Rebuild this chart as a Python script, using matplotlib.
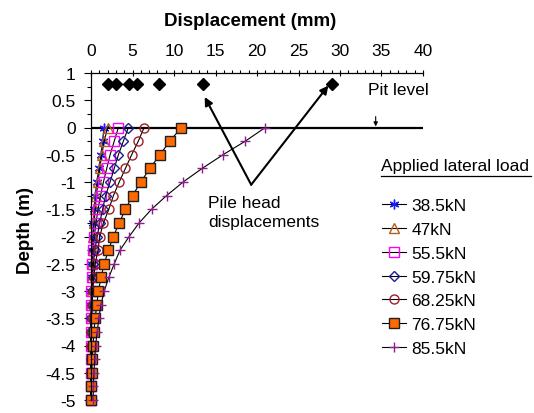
import matplotlib
matplotlib.use('Agg')
import matplotlib.pyplot as plt
from matplotlib.ticker import MultipleLocator, FixedLocator, FixedFormatter
from matplotlib.lines import Line2D

plt.rcParams['font.family'] = ['Liberation Sans', 'DejaVu Sans']

# ---------------- data ----------------
depth = [0, -0.25, -0.5, -0.75, -1, -1.25, -1.5, -1.75, -2, -2.25, -2.5,
         -2.75, -3, -3.25, -3.5, -3.75, -4, -4.25, -4.5, -4.75, -5]

load_labels = ['38.5kN', '47kN', '55.5kN', '59.75kN', '68.25kN', '76.75kN', '85.5kN']

disp_38_5 = [1.55, 1.4, 1.2, 0.95, 0.7, 0.5, 0.4, 0.3, 0.2, 0.15, 0.1,
             0.08, 0.05, 0.03, 0.02, 0.0, 0.0, 0.0, 0.0, 0.0, 0.0]
disp_47 = [2.0, 1.6, 1.3, 1.05, 0.85, 0.65, 0.5, 0.38, 0.28, 0.2, 0.14,
           0.1, 0.07, 0.05, 0.03, 0.02, 0.01, 0.0, 0.0, 0.0, 0.0]
disp_55_5 = [3.3, 2.8, 2.3, 1.9, 1.5, 1.15, 0.85, 0.6, 0.4, 0.28, 0.18,
             0.1, 0.05, 0.02, 0.0, -0.03, -0.05, -0.05, -0.05, -0.05, -0.05]
disp_59_75 = [4.5, 3.9, 3.3, 2.8, 2.3, 1.75, 1.4, 1.05, 0.75, 0.45, 0.3,
              0.2, 0.12, 0.08, 0.05, 0.03, 0.02, 0.0, 0.0, 0.0, 0.0]
disp_68_25 = [6.4, 5.7, 4.9, 4.15, 3.4, 2.7, 2.15, 1.5, 1.05, 0.85, 0.5,
              0.35, 0.2, 0.15, 0.1, 0.05, 0.03, 0.02, 0.0, 0.0, 0.0]
disp_76_75 = [10.9, 9.5, 8.3, 7.1, 6.0, 5.0, 4.15, 3.4, 2.7, 2.1, 1.6,
              1.2, 0.9, 0.7, 0.5, 0.35, 0.25, 0.15, 0.1, 0.05, 0.05]
disp_85_5 = [21.0, 18.6, 15.9, 13.4, 11.1, 9.1, 7.3, 5.8, 4.6, 3.5, 2.8,
             2.15, 1.6, 1.2, 0.95, 0.75, 0.55, 0.45, 0.35, 0.3, 0.25]

head_disp = [2.1, 3.0, 4.6, 5.5, 8.2, 13.5, 29.0]
pit_height = [0.8, 0.8, 0.8, 0.8, 0.8, 0.8, 0.8]

x_ticks = [0, 5, 10, 15, 20, 25, 30, 35, 40]
y_ticks = [1, 0.5, 0, -0.5, -1, -1.5, -2, -2.5, -3, -3.5, -4, -4.5, -5]
y_tick_labels = ['1', '0.5', '0', '-0.5', '-1', '-1.5', '-2', '-2.5', '-3',
                 '-3.5', '-4', '-4.5', '-5']

series = [disp_38_5, disp_47, disp_55_5, disp_59_75, disp_68_25, disp_76_75, disp_85_5]

styles = [
    dict(marker=(6, 2, 0), ms=7, mec='#1a1aff', mfc='none', mew=1.0),
    dict(marker='^', ms=7.5, mec='#b85c1c', mfc='none', mew=1.0),
    dict(marker='s', ms=7.5, mec='#ff00ff', mfc='none', mew=1.0),
    dict(marker='D', ms=4.8, mec='#1e1e96', mfc='none', mew=1.0),
    dict(marker='o', ms=6.5, mec='#a01e28', mfc='none', mew=1.0),
    dict(marker='s', ms=7, mec='#202020', mfc='#ff6a00', mew=1.0),
    dict(marker='+', ms=7, mec='#8c1e8c', mfc='none', mew=1.0),
]

W, H = 534, 414
fig = plt.figure(figsize=(W / 100, H / 100), dpi=100)
L, R, T, B = 91, 423, 74, 401
ax = fig.add_axes([L / W, 1 - B / H, (R - L) / W, (B - T) / H])

FS = 12.5

handles = []
for vals, lab, st in zip(series, load_labels, styles):
    ln, = ax.plot(vals, depth, color='black', lw=0.8, label=lab, clip_on=False, **st)
    handles.append(ln)

# ground line at depth 0
ax.plot([0, 40], [0, 0], color='black', lw=1.6, zorder=1)

# pile head displacements at pit level
ax.plot(head_disp, pit_height, ls='none', marker='D', ms=6.5, mfc='black', mec='black', clip_on=False)

ax.set_xlim(0, 40)
ax.set_ylim(-5, 1)

ax.xaxis.tick_top()
ax.xaxis.set_major_locator(FixedLocator(x_ticks))
ax.xaxis.set_minor_locator(MultipleLocator(1))
ax.yaxis.set_major_locator(FixedLocator(y_ticks))
ax.yaxis.set_major_formatter(FixedFormatter(y_tick_labels))
ax.yaxis.set_minor_locator(MultipleLocator(0.25))

ax.tick_params(axis='x', which='major', direction='inout', length=5, width=0.8,
               labelsize=FS, pad=8, top=True, bottom=False)
ax.tick_params(axis='x', which='minor', direction='out', length=2.5, width=0.8,
               top=True, bottom=False)
ax.tick_params(axis='y', which='major', direction='out', length=5, width=0.8,
               labelsize=FS, pad=6)
ax.tick_params(axis='y', which='minor', direction='out', length=3, width=0.8)

for s in ['right', 'bottom']:
    ax.spines[s].set_visible(False)
for s in ['left', 'top']:
    ax.spines[s].set_linewidth(0.9)

# axis titles
fig.text(250.5 / W, 1 - 21 / H, 'Displacement (mm)', fontsize=13.5, fontweight='bold',
         ha='center', va='center')
fig.text(26 / W, 1 - 230 / H, 'Depth (m)', fontsize=13.5, fontweight='bold',
         ha='center', va='center', rotation=90)

# annotations
ax.text(33.4, 0.69, 'Pit level', fontsize=FS, ha='left', va='center')
ax.annotate('', xy=(34.3, 0.02), xytext=(34.3, 0.2),
            arrowprops=dict(arrowstyle='-|>', color='black', lw=0.8,
                            mutation_scale=6, shrinkA=0, shrinkB=0))

apex = (19.3, -1.05)
for tip in [(13.7, 0.56), (28.6, 0.77)]:
    ax.annotate('', xy=tip, xytext=apex,
                arrowprops=dict(arrowstyle='-|>', color='black', lw=1.5,
                                mutation_scale=12, shrinkA=0, shrinkB=0))
ax.text(14.1, -1.55, 'Pile head\ndisplacements', fontsize=FS, ha='left', va='center',
        linespacing=1.3)

# legend
fig.text(381 / W, 1 - 167 / H, 'Applied lateral load', fontsize=FS, ha='left', va='center')
fig.add_artist(Line2D([381 / W, 531 / W], [1 - 177 / H, 1 - 177 / H], color='black', lw=0.9))

leg = ax.legend(handles=handles, labels=load_labels, loc='upper left',
                bbox_to_anchor=(382 / W, 1 - 199 / H), bbox_transform=fig.transFigure,
                frameon=False, fontsize=FS, handlelength=1.4, handletextpad=0.3,
                labelspacing=0.5, borderpad=0, borderaxespad=0)

fig.savefig('out.png', dpi=100)
